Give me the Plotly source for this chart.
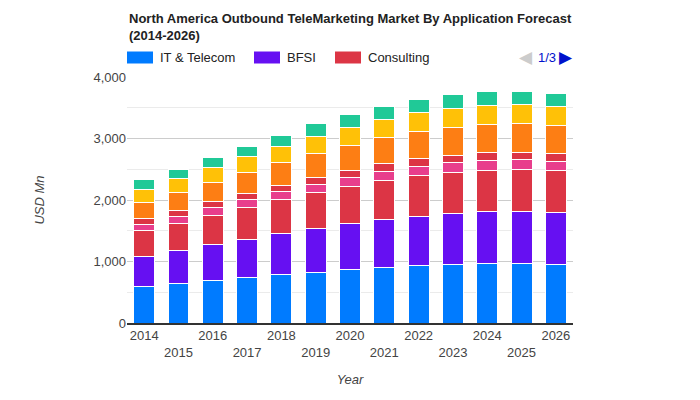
import plotly.graph_objects as go

years = [str(y) for y in range(2014, 2027)]
series_names = ["IT & Telecom", "BFSI", "Consulting", "Retail", "Healthcare",
                "Media & Entertainment", "Travel & Hospitality", "Others"]
it_telecom = [600, 642, 691, 746, 795, 827, 876, 908, 941, 957, 973, 973, 957]
bfsi       = [487, 536, 584, 616, 665, 714, 746, 779, 794, 827, 844, 844, 843]
consulting = [415, 444, 477, 520, 551, 584, 600, 633, 666, 665, 665, 681, 682]
retail     = [104, 102, 123, 123, 130, 124, 146, 146, 146, 162, 162, 162, 146]
healthcare = [91, 103, 104, 104, 97, 119, 114, 134, 129, 114, 130, 114, 129]
media      = [266, 298, 308, 345, 367, 389, 405, 417, 438, 454, 454, 470, 455]
travel     = [210, 221, 237, 248, 260, 270, 292, 292, 309, 308, 308, 308, 308]
others     = [156, 157, 174, 174, 189, 211, 205, 204, 204, 221, 221, 205, 204]
colors = ["#007bff", "#6610f2", "#dc3545", "#e83e8c", "#dc3545",
          "#fd7e14", "#ffc107", "#20c997"]
y_ticks = [0, 1000, 2000, 3000, 4000]

all_series = [it_telecom, bfsi, consulting, retail, healthcare, media, travel, others]

fig = go.Figure()
for name, vals, col in zip(series_names, all_series, colors):
    fig.add_trace(go.Bar(
        x=years, y=vals, name=name, marker=dict(color=col, line=dict(color="white", width=1)),
        showlegend=False,
    ))

ticktext = [y if i % 2 == 0 else "<br>" + y for i, y in enumerate(years)]

FONT = "Liberation Sans, Arial, sans-serif"
OFF = 8  # default page body margin
FW, FH = 684, 384
L, T, W, H = 127 - OFF, 77 - OFF, 446, 246
fig.update_layout(
    barmode="stack",
    bargap=0.39,
    width=FW, height=FH,
    margin=dict(l=L, r=FW - L - W, t=T, b=FH - T - H),
    plot_bgcolor="white", paper_bgcolor="white",
    font=dict(family=FONT, size=13, color="#444"),
    xaxis=dict(
        tickmode="array", tickvals=years, ticktext=ticktext, automargin=False,
        showgrid=False, showline=True, linecolor="#333", linewidth=1.5,
        ticks="", tickfont=dict(size=13, color="#444"),
        title=dict(text="<i>Year</i>", font=dict(size=13, color="#444"), standoff=16),
    ),
    yaxis=dict(
        range=[0, 4000], tickvals=y_ticks, tickformat=",", automargin=False,
        showgrid=True, gridcolor="#cccccc", gridwidth=1,
        minor=dict(dtick=500, showgrid=True, gridcolor="#ebebeb", gridwidth=1),
        zeroline=False, ticks="", ticklen=0,
        tickfont=dict(size=13, color="#444"),
        title=dict(text="<i>USD Mn</i>", font=dict(size=13, color="#444"), standoff=45),
    ),
)

def px(x):
    return (x - OFF - L) / W

def py(y):
    return (T + H - (y - OFF)) / H

fig.add_annotation(
    xref="paper", yref="paper", x=0, y=py(9), xanchor="left", yanchor="top",
    text="<b>North America Outbound TeleMarketing Market By Application Forecast<br>(2014-2026)</b>",
    showarrow=False, align="left", font=dict(family=FONT, size=13, color="#222"),
)

# custom legend (first page)
legend_items = [(series_names[0], colors[0], 127), (series_names[1], colors[1], 254),
                (series_names[2], colors[2], 335)]
for name, col, x0 in legend_items:
    fig.add_shape(type="rect", xref="paper", yref="paper",
                  x0=px(x0), x1=px(x0 + 26), y0=py(63.5), y1=py(51.5),
                  fillcolor=col, line=dict(width=0))
    fig.add_annotation(xref="paper", yref="paper", x=px(x0 + 31),
                       y=py(57.5), text=name, showarrow=False,
                       xanchor="left", yanchor="middle",
                       font=dict(size=13, color="#222"))
# legend pager
fig.add_annotation(xref="paper", yref="paper", x=px(525.5), y=py(57.5),
                   text="◀", showarrow=False, xanchor="center", yanchor="middle",
                   font=dict(size=17, color="#cccccc"))
fig.add_annotation(xref="paper", yref="paper", x=px(546.5), y=py(57.5),
                   text="1/3", showarrow=False, xanchor="center", yanchor="middle",
                   font=dict(size=13, color="#0011cc"))
fig.add_annotation(xref="paper", yref="paper", x=px(566), y=py(57.5),
                   text="▶", showarrow=False, xanchor="center", yanchor="middle",
                   font=dict(size=17, color="#0011cc"))

fig.write_html("out.html")
